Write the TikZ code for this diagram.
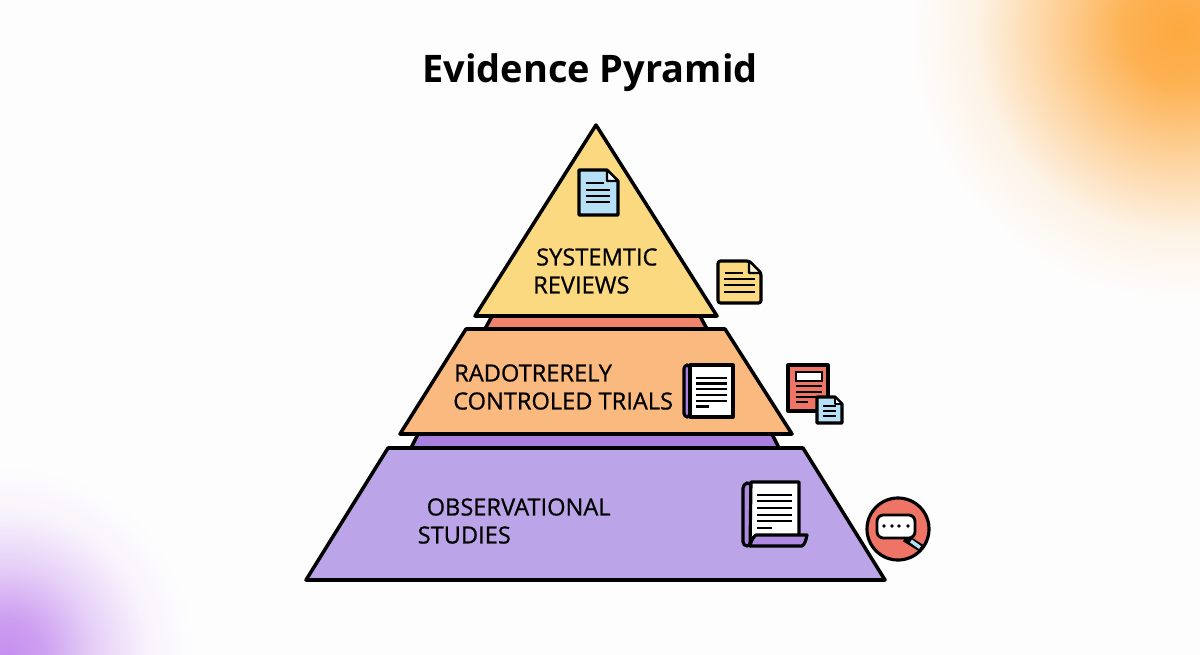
\documentclass[tikz,border=0pt]{standalone}
\usepackage{fontspec}
\setmainfont{Open Sans}
\usepackage{tikz}
\definecolor{pagebg}{HTML}{FDFDFD}
\definecolor{glowor}{HTML}{FDA93F}
\definecolor{glowpu}{HTML}{C58FEF}
\definecolor{topfill}{HTML}{FBD980}
\definecolor{midfill}{HTML}{FAB97F}
\definecolor{lowfill}{HTML}{BBA5E8}
\definecolor{redband}{HTML}{F1836A}
\definecolor{purband}{HTML}{A97FDF}
\definecolor{iconblue}{HTML}{B5E0F5}
\definecolor{iconred}{HTML}{EE7565}
\pgfdeclareradialshading{orglow}{\pgfpoint{0bp}{0bp}}{color(0bp)=(glowor);
  color(5bp)=(glowor!90!pagebg);color(12bp)=(glowor!50!pagebg);
  color(19bp)=(glowor!12!pagebg);color(25bp)=(pagebg);color(50bp)=(pagebg)}
\pgfdeclareradialshading{puglow}{\pgfpoint{0bp}{0bp}}{color(0bp)=(glowpu);
  color(5bp)=(glowpu!85!pagebg);color(12bp)=(glowpu!40!pagebg);
  color(19bp)=(glowpu!8!pagebg);color(25bp)=(pagebg);color(50bp)=(pagebg)}
\tikzset{
  tier/.style={draw=black,line width=1pt,line join=round},
  icon/.style={draw=black,line width=0.9pt,line join=round},
  rule/.style={draw=black,line width=0.85pt},
  lab/.style={anchor=west,inner sep=0pt,font=\fontsize{6.72}{8}\selectfont\addfontfeature{FakeBold=0.8}}
}
\begin{document}
\begin{tikzpicture}[x=0.1mm,y=-0.1mm]
  \useasboundingbox (0,0) rectangle (1200,655);
  \clip (0,0) rectangle (1200,655);
  \fill[pagebg] (0,0) rectangle (1200,655);
  \shade[shading=orglow] (1180,30) circle (270);
  \shade[shading=puglow] (5,655) circle (190);

  \node[inner sep=0pt,font=\fontsize{10.8}{13}\selectfont\bfseries] (title) at (590,73) {Evidence Pyramid};

  % bands behind the tiers
  \filldraw[tier,fill=redband] (485,329) -- (492,316) -- (700,316) -- (707,329) -- cycle;
  \filldraw[tier,fill=purband] (411,448) -- (418,434) -- (772,434) -- (779,448) -- cycle;

  % tiers
  \filldraw[tier,fill=topfill] (596,125) -- (717,316) -- (475,316) -- cycle;
  \filldraw[tier,fill=midfill] (466,329) -- (725,329) -- (792,434) -- (400,434) -- cycle;
  \filldraw[tier,fill=lowfill] (388,448) -- (803,448) -- (885,580) -- (306,580) -- cycle;

  \node[lab] (sys) at (535.5,257) {SYSTEMTIC};
  \node[lab] (rev) at (532.5,285) {REVIEWS};
  \node[lab] (rad) at (453.5,373) {RADOTRERELY};
  \node[lab] (con) at (452.5,401) {CONTROLED TRIALS};
  \node[lab] (obs) at (426,507) {OBSERVATIONAL};
  \node[lab] (stu) at (417,535) {STUDIES};

  % blue sheet
  \filldraw[icon,fill=iconblue] (579,170) -- (607,170) -- (618,181) -- (618,215) -- (579,215) -- cycle;
  \filldraw[icon,fill=white!85!iconblue,line width=0.6pt] (607,170) -- (607,181) -- (618,181) -- cycle;
  \draw[rule] (586,183) -- (604,183);
  \foreach \y in {190,196,202} \draw[rule] (586,\y) -- (610,\y);

  % yellow sheet
  \filldraw[icon,fill=topfill,rounded corners=0.7pt] (718,261) -- (749,261) -- (761,273) -- (761,303) -- (718,303) -- cycle;
  \filldraw[icon,fill=white!70!topfill,line width=0.6pt] (749,261) -- (749,273) -- (761,273) -- cycle;
  \draw[rule] (725,273) -- (743,273);
  \foreach \y in {279,285,292} \draw[rule] (724,\y) -- (755,\y);

  % book
  \filldraw[icon,fill=purband,rounded corners=1pt] (690,365) -- (684,365) -- (684,417) -- (690,417) -- cycle;
  \filldraw[icon,fill=white] (690,365) rectangle (733,417);
  \foreach \y in {378,383.5,389,395,401} \draw[rule] (696,\y) -- (727,\y);
  \draw[rule] (696,406.5) -- (709,406.5);

  % red report with small sheet
  \filldraw[icon,fill=iconred] (788,365) rectangle (828,411);
  \filldraw[draw=black,line width=0.6pt,fill=white] (796,372) rectangle (822,381);
  \foreach \y in {386,392,397} \draw[rule,line width=0.7pt] (796,\y) -- (822,\y);
  \draw[rule,line width=0.7pt] (796,402) -- (808,402);
  \filldraw[icon,fill=iconblue] (817,397) -- (835,397) -- (842,404) -- (842,423) -- (817,423) -- cycle;
  \filldraw[icon,fill=white!85!iconblue,line width=0.5pt] (835,397) -- (835,404) -- (842,404) -- cycle;
  \foreach \y in {406,411,416} \draw[rule,line width=0.7pt] (823,\y) -- (836,\y);

  % scroll
  \filldraw[icon,fill=purband!70!lowfill,rounded corners=1.2pt] (751,482) -- (743,484) -- (743,546) -- (751,546) -- cycle;
  \filldraw[icon,fill=white] (751,482) -- (799,482) -- (799,537) -- (755,537) .. controls (751,538) and (750,542) .. (750,546) -- cycle;
  \filldraw[icon,fill=purband!70!lowfill] (756,535) -- (807,535) .. controls (806,540) and (805,544) .. (802,546) -- (750,546) .. controls (751,541) and (753,537) .. (756,535) -- cycle;
  \foreach \y in {495,501,508,515,521} \draw[rule] (757,\y) -- (792,\y);
  \draw[rule] (757,528) -- (772,528);

  % speech badge
  \filldraw[icon,fill=iconred] (898,529) circle (31);
  \draw[draw=black,line width=2.2pt] (905,538) -- (921,548);
  \draw[draw=iconblue,line width=1pt] (911,541) -- (920,547.5);
  \filldraw[icon,fill=white,line width=0.8pt,rounded corners=1.8pt] (877,515) rectangle (915,538);
  \foreach \x in {884,892,899,908} \fill[black] (\x,526) circle (1.8);
\end{tikzpicture}
\end{document}
